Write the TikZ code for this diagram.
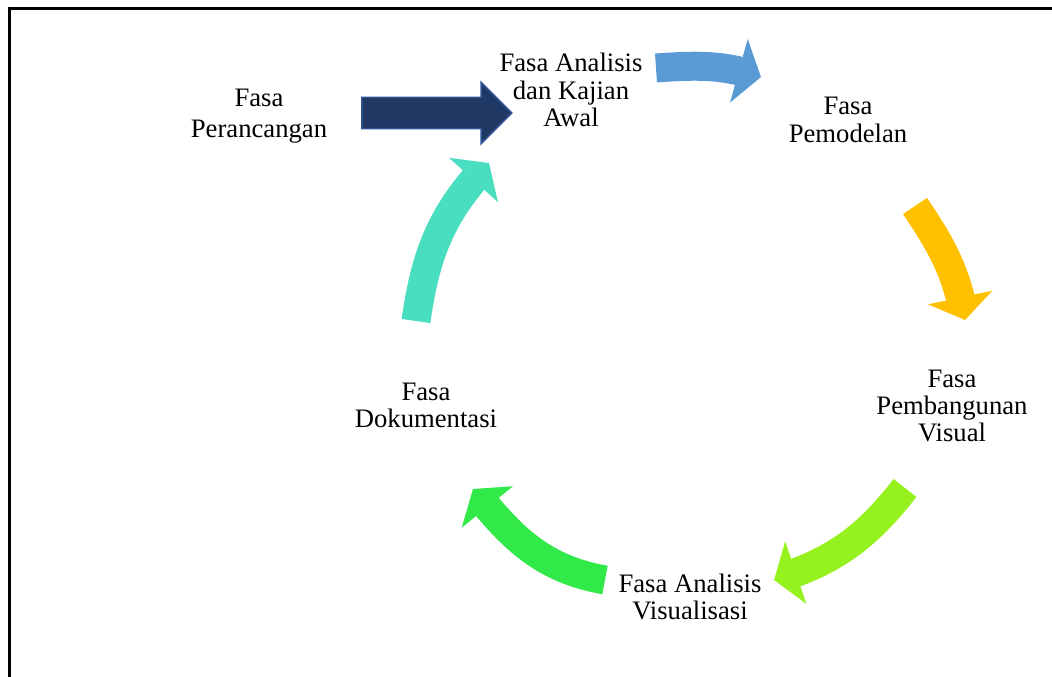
\documentclass[tikz,border=0pt]{standalone}
\usepackage{fontspec}
\setmainfont{Liberation Serif}
\usetikzlibrary{arrows.meta,bending,shapes.arrows}
\definecolor{biru}{RGB}{91,155,213}
\definecolor{kuning}{RGB}{255,192,0}
\definecolor{limau}{RGB}{150,242,30}
\definecolor{hijau}{RGB}{50,233,74}
\definecolor{toska}{RGB}{74,222,192}
\definecolor{navi}{RGB}{32,56,100}
\definecolor{navigaris}{RGB}{47,85,151}
\begin{document}
\begin{tikzpicture}[x=0.75pt, y=0.75pt,
    fasa/.style={align=center, font=\fontsize{20}{20.4}\selectfont, inner sep=0pt},
    panah/.style={line width=21.75pt, -{Triangle[length=17.25pt, width=49.5pt, line width=0pt]}}]

\clip (0,0) rectangle (1052,-677);

% frame
\draw[line width=2.25pt] (9,-8.5) rectangle (1080,-700);

% phases
\node[fasa] (rancang) at (259,-116) {Fasa\\[3pt]Perancangan};
\node[fasa] (analisis) at (571,-90) {Fasa Analisis\\dan Kajian\\Awal};
\node[fasa] (model) at (848,-120) {Fasa\\Pemodelan};
\node[fasa] (bangun) at (952,-406) {Fasa\\Pembangunan\\Visual};
\node[fasa] (visual) at (690,-597) {Fasa Analisis\\Visualisasi};
\node[fasa] (dokumen) at (426,-405) {Fasa\\Dokumentasi};

% entry arrow
\node[single arrow, draw=navigaris, fill=navi, line width=1.1pt,
      inner xsep=0pt, inner ysep=11.25pt, minimum height=112.5pt,
      single arrow head extend=11.25pt]
      (masuk) at (429,-113) {};

% cycle arrows
\coordinate (b1) at (656,-68);  \coordinate (b2) at (761,-77);
\coordinate (k1) at (915,-206); \coordinate (k2) at (965,-320);
\coordinate (l1) at (905,-488); \coordinate (l2) at (774,-580);
\coordinate (h1) at (605,-580); \coordinate (h2) at (473,-489);
\coordinate (t1) at (416,-321); \coordinate (t2) at (489,-163);

\draw[panah, biru] (b1) to[out=4, in=162] (b2);
\draw[panah, kuning] (k1) to[out=-56, in=100] (k2);
\draw[panah, limau] (l1) to[out=-128, in=17] (l2);
\draw[panah, hijau] (h1) to[out=170, in=-52] (h2);
\draw[panah, toska] (t1) to[out=82, in=226] (t2);

\end{tikzpicture}
\end{document}
